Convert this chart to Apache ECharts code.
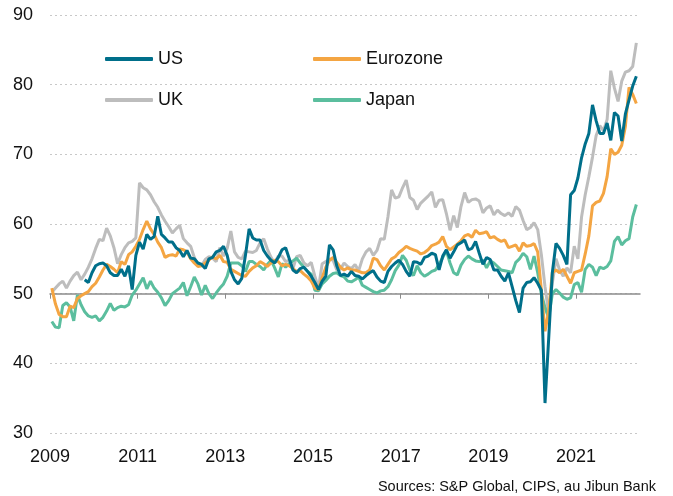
<!DOCTYPE html>
<html>
<head>
<meta charset="utf-8">
<script src="https://cdn.jsdelivr.net/npm/echarts@6/dist/echarts.min.js"></script>
<style>
  html, body { margin: 0; padding: 0; background: #fff; }
  #chart { width: 673px; height: 496px; }
</style>
</head>
<body>
<div id="chart"></div>
<script>
// monthly readings, Jan 2009 .. May 2022
const startYear = 2009;
const yearTicks = [0, 24, 48, 72, 96, 120, 144];

const us = [
  null, null, null, null, null, null, null, null, null, 52.0, 51.6, 53.0,
  54.0, 54.3, 54.4, 54.0, 53.0, 52.6, 52.6, 53.5, 52.5, 54.0, 50.6, 55.5,
  57.4, 56.4, 58.5, 57.8, 58.2, 61.1, 58.5, 58.0, 57.4, 57.4, 56.6, 56.2,
  55.3, 56.2, 55.1, 55.0, 54.4, 54.2, 53.6, 55.0, 55.2, 56.0, 56.2, 56.8,
  55.5, 53.2, 52.0, 51.4, 52.2, 55.5, 59.3, 58.0, 57.7, 57.7, 56.2, 55.4,
  54.8, 54.4, 55.2, 56.3, 56.6, 55.0, 53.4, 53.0, 53.6, 53.8, 53.2, 52.5,
  51.6, 50.6, 51.8, 52.5, 57.0, 56.3, 54.0, 52.6, 52.8, 52.5, 53.2, 52.6,
  52.5, 52.1, 52.6, 53.0, 53.3, 52.4, 51.8, 51.6, 53.2, 53.9, 54.4, 54.8,
  54.2, 53.2, 52.5, 54.6, 54.5, 54.2, 55.2, 55.4, 55.8, 55.6, 53.4, 55.4,
  56.3, 55.1, 56.0, 57.0, 57.3, 57.7, 56.3, 56.5, 57.5, 55.8, 54.2, 55.2,
  54.9, 53.4, 53.4, 52.5, 51.8, 53.0, 51.0, 49.0, 47.3, 50.8, 51.6, 51.7,
  52.3, 51.5, 50.5, 34.3, 43.5, 53.0, 57.2, 56.5, 55.5, 54.2, 64.2, 64.8,
  66.6, 69.5, 71.5, 73.0, 77.1, 74.8, 73.0, 73.0, 74.5, 72.0, 76.0, 75.5,
  71.9, 75.8, 77.8, 79.8, 81.2
];

const eurozone = [
  50.8, 48.5, 47.0, 46.7, 46.7, 48.2, 48.0, 49.3, 49.7, 50.0, 50.3, 51.0,
  51.5, 52.4, 53.4, 54.2, 53.9, 53.5, 53.0, 54.6, 54.2, 55.6, 56.0, 56.8,
  57.8, 59.2, 60.4, 59.3, 58.5, 57.4, 56.6, 55.2, 55.5, 55.6, 55.4, 56.4,
  56.3, 56.0, 55.0, 54.4, 53.9, 54.0, 54.4, 54.8, 55.3, 55.0, 55.5, 54.6,
  54.5, 53.5, 53.2, 52.9, 52.6, 52.5, 53.2, 53.7, 54.0, 54.6, 54.3, 53.9,
  54.4, 54.8, 54.6, 54.0, 54.2, 54.0, 53.6, 53.2, 53.3, 52.8, 52.4, 51.8,
  50.8, 50.6, 52.3, 53.8, 54.8, 55.2, 54.5, 53.8, 53.4, 53.7, 53.4, 53.4,
  53.2, 53.0, 53.0, 53.4, 55.1, 54.9, 54.0, 53.4, 54.2, 55.0, 55.3, 55.9,
  56.3, 56.8, 56.5, 56.3, 56.1, 55.7, 55.9, 56.3, 56.9, 57.1, 57.4, 58.2,
  56.8, 56.3, 56.7, 57.1, 57.6, 58.3, 58.5, 58.1, 59.1, 58.6, 58.7, 58.9,
  58.0, 58.2, 57.8, 57.5, 57.7, 56.6, 56.8, 57.0, 56.1, 57.3, 56.8, 56.9,
  57.2, 56.0, 50.5, 44.6, 47.5, 53.0, 53.4, 53.0, 53.5, 52.5, 51.5, 53.0,
  53.2, 53.4, 55.7, 58.3, 62.6, 63.1, 63.3, 64.4, 66.8, 70.8, 70.0, 70.3,
  71.3, 74.0, 79.6, 78.6, 77.3
];

const uk = [
  50.2, 50.8, 51.4, 51.8, 50.8, 51.8, 52.6, 53.1, 52.0, 52.8, 53.8, 55.0,
  56.5, 57.8, 57.6, 59.4, 58.3, 56.6, 54.3, 55.6, 56.6, 57.3, 57.5, 58.0,
  65.9, 65.2, 64.9, 64.2, 63.2, 62.4, 61.3, 60.4, 59.6, 58.7, 59.3, 59.8,
  57.9, 57.3, 56.8, 55.2, 54.1, 54.0, 54.9, 55.3, 55.1, 54.6, 56.6, 55.4,
  56.5, 59.0, 56.0, 55.2, 55.0, 56.1, 56.0, 55.9, 56.2, 57.3, 57.9, 56.4,
  55.2, 54.4, 55.4, 55.4, 54.6, 54.8, 53.6, 55.3, 55.5, 54.4, 54.0, 54.5,
  52.5, 50.8, 54.3, 54.6, 55.0, 54.8, 53.4, 53.5, 54.4, 53.9, 53.6, 54.2,
  53.3, 55.0, 56.0, 56.5, 55.5, 56.2, 57.9, 57.8, 61.0, 64.9, 63.7, 63.9,
  65.2, 66.3, 63.8, 63.4, 62.1, 63.0, 63.5, 64.0, 64.6, 62.4, 63.4, 63.5,
  61.5, 59.1, 61.2, 59.5, 62.5, 64.5, 63.1, 63.5, 63.6, 63.3, 61.6, 62.3,
  62.6, 61.3, 62.0, 61.5, 61.2, 61.6, 61.1, 62.5, 62.0, 60.5, 59.2, 59.5,
  60.2, 59.2, 55.6, 51.0, 47.2, 51.5, 55.0, 53.4, 52.5, 53.7, 53.0, 56.8,
  55.0, 61.0, 64.2, 66.8, 69.6, 72.7, 74.1, 73.4, 75.0, 82.0, 79.5, 77.6,
  80.5, 81.8, 82.0, 82.6, 86.0
];

const japan = [
  46.0, 45.2, 45.1, 48.3, 48.7, 48.1, 46.1, 49.8, 48.4, 47.4, 46.8, 46.6,
  46.8, 46.1, 46.6, 47.5, 48.6, 47.6, 48.0, 48.2, 48.1, 48.4, 49.8, 50.5,
  51.4, 52.3, 50.7, 51.8, 50.8, 50.2, 49.4, 48.3, 49.0, 50.0, 50.4, 50.8,
  51.6, 49.7, 51.0, 52.4, 51.4, 49.8, 51.2, 50.0, 49.3, 50.1, 50.8, 51.4,
  52.5, 54.4, 54.4, 54.4, 54.0, 53.2, 54.6, 54.6, 54.2, 53.9, 53.4, 54.2,
  54.8, 53.7, 52.4, 54.3, 53.8, 54.3, 54.7, 55.1, 54.4, 53.8, 53.2, 52.8,
  50.5, 50.4, 51.4, 51.9, 52.5, 52.9, 53.0, 52.6, 52.4, 51.8, 51.7, 52.0,
  52.4, 51.2, 50.9, 50.6, 50.3, 50.1, 50.4, 50.5, 51.0, 52.0, 53.3, 54.1,
  55.5, 54.8, 53.4, 52.6, 54.0, 53.0, 52.5, 52.8, 53.2, 53.4, 54.2, 55.2,
  56.2, 54.4, 53.0, 52.7, 54.1, 54.9, 55.4, 55.0, 54.7, 54.6, 54.8, 53.7,
  54.7, 54.4, 53.9, 53.4, 53.3, 53.2, 53.0, 54.5, 55.0, 55.8, 55.3, 53.5,
  55.4, 53.0, 50.0, 48.0, 46.5, 50.0, 50.6, 50.1, 49.5, 49.2, 49.4, 51.3,
  51.6, 50.2, 53.5, 54.2, 53.8, 52.6, 53.8, 53.6, 53.9, 54.7, 57.5, 58.2,
  57.0, 57.6, 57.9, 61.0, 62.8
];

const FONT = 'Liberation Sans, Arial, sans-serif';

// month i is plotted in the middle of its month
function toPoints(arr) {
  const pts = [];
  arr.forEach((v, i) => { if (v != null) pts.push([i + 0.5, v]); });
  return pts;
}

function line(name, data, color) {
  return {
    name: name,
    type: 'line',
    data: toPoints(data),
    showSymbol: false,
    symbol: 'none',
    lineStyle: { width: 3, color: color },
    itemStyle: { color: color },
    emphasis: { disabled: true }
  };
}

const legendBase = {
  left: 100,
  itemWidth: 48,
  itemHeight: 4,
  itemGap: 130,
  icon: 'roundRect',
  textStyle: { fontSize: 18, color: '#111', fontFamily: FONT },
  selectedMode: false
};

const chart = echarts.init(document.getElementById('chart'));
chart.setOption({
  animation: false,
  backgroundColor: '#fff',
  grid: { left: 50, right: 33, top: 15, bottom: 63 },
  legend: [
    Object.assign({}, legendBase, { top: 45, data: ['US', 'Eurozone'] }),
    Object.assign({}, legendBase, { top: 86, data: ['UK', 'Japan'] })
  ],
  xAxis: [
    {
      type: 'value',
      min: 0,
      max: 161.5,
      interval: 24,
      axisLine: { show: false },
      axisTick: { show: false },
      splitLine: { show: false },
      axisLabel: {
        customValues: yearTicks,
        formatter: v => String(startYear + v / 12),
        fontSize: 18,
        color: '#111',
        fontFamily: FONT,
        margin: 15
      }
    },
    {
      // the 50 line with year ticks
      type: 'value',
      position: 'bottom',
      offset: -139.3,
      min: 0,
      max: 161.5,
      interval: 24,
      axisLine: { show: true, lineStyle: { color: '#8c8c8c', width: 1.5 } },
      axisTick: { show: true, customValues: yearTicks, length: 5, lineStyle: { color: '#8c8c8c', width: 1 } },
      axisLabel: { show: false },
      splitLine: { show: false }
    }
  ],
  yAxis: {
    type: 'value',
    min: 30,
    max: 90,
    interval: 10,
    axisLine: { show: false },
    axisTick: { show: false },
    axisLabel: { fontSize: 18, color: '#111', fontFamily: FONT, margin: 17 },
    splitLine: { lineStyle: { color: '#c8c8c8', type: [2, 3], width: 1 } }
  },
  graphic: [{
    type: 'text',
    right: 17,
    top: 479,
    style: {
      text: 'Sources: S&P Global, CIPS, au Jibun Bank',
      fontSize: 14.5,
      fontFamily: FONT,
      fill: '#111'
    }
  }],
  series: [
    line('UK', uk, '#bdbdbd'),
    line('Japan', japan, '#5bbe9e'),
    line('Eurozone', eurozone, '#f4a542'),
    line('US', us, '#006f8a')
  ]
});
</script>
</body>
</html>
